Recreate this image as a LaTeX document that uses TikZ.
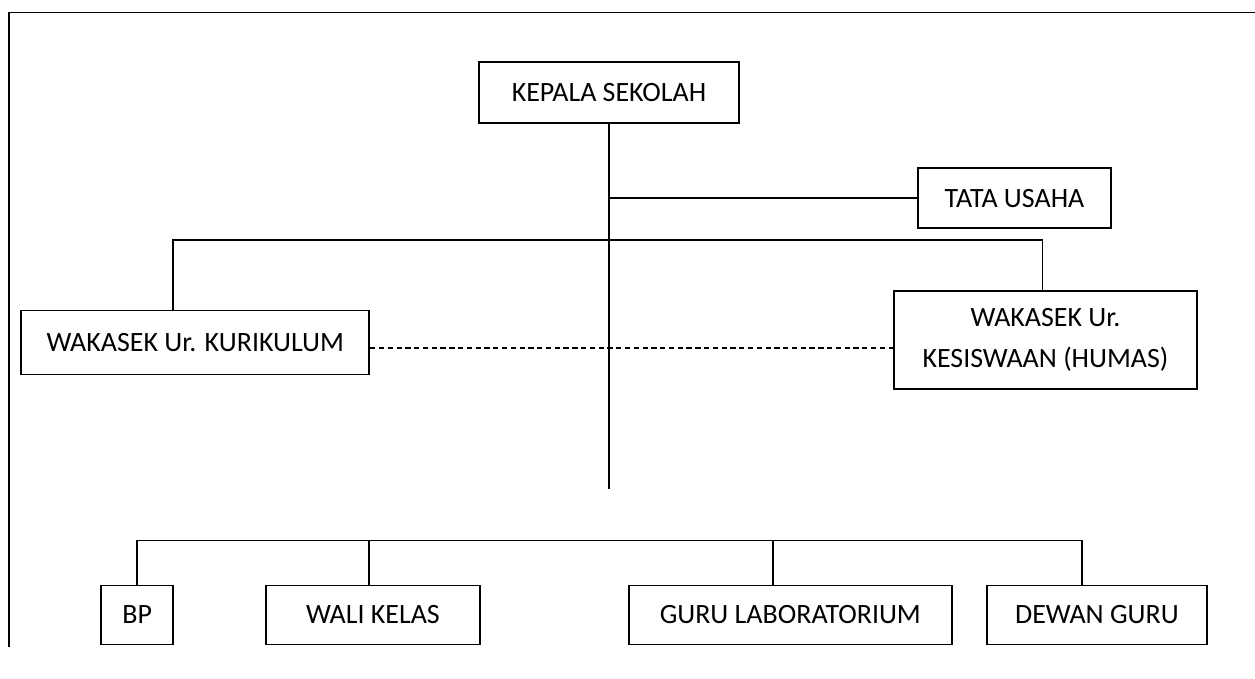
\documentclass[tikz,border=0pt]{standalone}
\usepackage{fontspec}
\setmainfont{Carlito}
\usepackage{tikz}
\tikzstyle{box} = [rectangle, draw=black, line width=1pt, inner sep=0pt, minimum height=1.18cm, text centered, align=center, font=\fontsize{15.9}{23.7}\selectfont]
\tikzstyle{line} = [line width=1pt]
\tikzstyle{dashline} = [line width=1pt, dash pattern=on 3pt off 2pt]

\begin{document}
\begin{tikzpicture}[node distance=5cm]
\useasboundingbox (-12.18,1.85) rectangle (12.92,-11.73);
\draw [line] (-12.0,-11.09) |- (12.92,1.6);

\node (ks) [box, minimum width=5.19cm, minimum height=1.23cm] {KEPALA SEKOLAH};
\node (tu) [box, right of=ks, xshift=3.11cm, yshift=-2.116cm, minimum width=3.85cm, minimum height=1.2cm] {TATA USAHA};
\node (kur) [box, below of=ks, xshift=-8.274cm, minimum width=6.96cm, minimum height=1.28cm] {WAKASEK Ur. KURIKULUM};
\node (kes) [box, below of=ks, xshift=8.73cm, yshift=0.05cm, minimum width=6.05cm, minimum height=1.97cm] {WAKASEK Ur.\\KESISWAAN (HUMAS)};
\node (bp) [box, below of=kur, xshift=-1.162cm, yshift=-0.45cm, minimum width=1.446cm] {BP};
\node (wk) [box, right of=bp, xshift=-0.286cm, minimum width=4.286cm] {WALI KELAS};
\node (lab) [box, right of=wk, xshift=3.348cm, minimum width=6.454cm] {GURU LABORATORIUM};
\node (dg) [box, right of=lab, xshift=1.132cm, minimum width=4.406cm] {DEWAN GURU};

\coordinate (mainend) at (0,-7.93);
\coordinate (wbus) at (0,-2.95);
\coordinate (gbus) at (0,-8.96);

\draw [line] (ks) -- (mainend);
\draw [line] (ks |- tu) -- (tu);
\draw [line] ([xshift=-0.44cm]kur.north) |- (wbus) -| ([xshift=-0.06cm]kes.north);
\draw [dashline] ([yshift=-0.11cm]kur.east) -- ([yshift=-0.11cm]kur.east -| kes.west);
\draw [line] (bp.north) |- (gbus) -| ([xshift=-0.3cm]dg.north);
\draw [line] ([xshift=-0.08cm]wk.north) -- ([xshift=-0.08cm]wk.north |- gbus);
\draw [line] ([xshift=-0.35cm]lab.north) -- ([xshift=-0.35cm]lab.north |- gbus);
\end{tikzpicture}
\end{document}
